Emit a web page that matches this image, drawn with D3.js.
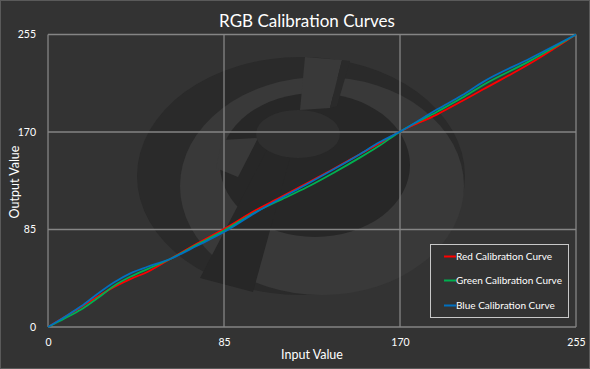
<!DOCTYPE html>
<html><head><meta charset="utf-8">
<script src="https://cdn.jsdelivr.net/npm/d3@7"></script>
<style>html,body{margin:0;padding:0;background:#333333;}svg{display:block;}</style>
</head><body>
<svg id="chart" width="590" height="369"></svg>
<script>
const inputs = [0, 8, 16, 24, 32, 40, 48, 59, 72, 85, 100, 112, 125, 138, 150, 160, 170, 188, 200, 210, 233, 255];
const redValues = [0, 8.6, 17.4, 26.6, 35, 42, 48, 59.3, 72.8, 85.4, 101.5, 112.8, 125.3, 138, 150, 160, 170.3, 185.4, 197, 207, 229.9, 255];
const greenValues = [0, 7.4, 15.2, 25.2, 36, 44, 50.5, 59.3, 71.8, 84, 100, 110.5, 121.8, 134.5, 147, 158, 170.3, 187.7, 199.8, 210.8, 232.2, 255];
const blueValues = [0, 8.8, 18, 29, 39, 47, 52.5, 59.3, 70.8, 82.8, 99.5, 111.8, 124.4, 137.5, 150, 161, 170.3, 189.8, 202, 213.5, 234.3, 255];
const seriesNames = ["Red Calibration Curve", "Green Calibration Curve", "Blue Calibration Curve"];
const seriesColors = ["#ff0000", "#00b050", "#0070c0"];
const tickValues = [0, 85, 170, 255];
const title = "RGB Calibration Curves";
const xTitle = "Input Value";
const yTitle = "Output Value";

const W = 590, H = 369;
const svg = d3.select("#chart");
const FONT = "Lato, 'Open Sans', sans-serif";

svg.append("rect").attr("x",0.5).attr("y",0.5).attr("width",W-1).attr("height",H-1)
  .attr("fill","#333333").attr("stroke","#5a5a5a");

// watermark
const wm = svg.append("g");
wm.append("ellipse").attr("cx",301).attr("cy",176).attr("rx",164).attr("ry",119).attr("fill","#2a2a2a");
wm.append("ellipse").attr("cx",322).attr("cy",186).attr("rx",142).attr("ry",109).attr("fill","#393939");
wm.append("ellipse").attr("cx",315).attr("cy",165).attr("rx",95).attr("ry",72).attr("fill","#272727");
wm.append("path").attr("d","M305,57 L342,60 L330,108 L300,110 Z").attr("fill","#393939");
wm.append("path").attr("d","M342,60 L350,61 L337,106 L330,108 Z").attr("fill","#2a2a2a");
wm.append("path").attr("d","M222,140 L258,138 L238,177 L216,168 Z").attr("fill","#393939");
wm.append("path").attr("d","M267,150 L290,158 L253,292 L200,278 Z").attr("fill","#272727");
wm.append("ellipse").attr("cx",298).attr("cy",134).attr("rx",42).attr("ry",24).attr("fill","#2f2f2f");

const x = d3.scaleLinear().domain([0,255]).range([48,576]);
const y = d3.scaleLinear().domain([0,255]).range([327,34.5]);

// gridlines
const grid = svg.append("g");
grid.selectAll(".gx").data(tickValues).join("line")
  .attr("x1",d=>x(d)).attr("x2",d=>x(d)).attr("y1",y(0)).attr("y2",y(255))
  .attr("stroke","#858585").attr("stroke-width",1.3);
grid.selectAll(".gy").data(tickValues).join("line")
  .attr("y1",d=>y(d)).attr("y2",d=>y(d)).attr("x1",x(0)).attr("x2",x(255))
  .attr("stroke","#858585").attr("stroke-width",1.3);

// axes labels
const xAxis = svg.append("g").attr("transform",`translate(0,${y(0)+9})`)
  .call(d3.axisBottom(x).tickValues(tickValues).tickSize(0).tickFormat(d3.format("d")));
xAxis.select(".domain").remove();
xAxis.selectAll("text").attr("fill","#ffffff").attr("font-family",FONT).attr("font-size",10.5);
const yAxis = svg.append("g").attr("transform",`translate(${x(0)-9},0)`)
  .call(d3.axisLeft(y).tickValues(tickValues).tickSize(0).tickFormat(d3.format("d")));
yAxis.select(".domain").remove();
yAxis.selectAll("text").attr("fill","#ffffff").attr("font-family",FONT).attr("font-size",10.5);

// lines
const series = [redValues, greenValues, blueValues];
const line = d3.line().x((d,i)=>x(inputs[i])).y(d=>y(d)).curve(d3.curveMonotoneX);
svg.append("g").selectAll("path").data(series).join("path")
  .attr("d",d=>line(d)).attr("fill","none")
  .attr("stroke",(d,i)=>seriesColors[i]).attr("stroke-width",1.8);

// titles
svg.append("text").attr("x",307).attr("y",27).attr("text-anchor","middle")
  .attr("fill","#ffffff").attr("font-family",FONT).attr("font-size",17).text(title);
svg.append("text").attr("x",312).attr("y",359).attr("text-anchor","middle")
  .attr("fill","#ffffff").attr("font-family",FONT).attr("font-size",12.5).text(xTitle);
svg.append("text").attr("transform","translate(19,182) rotate(-90)").attr("text-anchor","middle")
  .attr("fill","#ffffff").attr("font-family",FONT).attr("font-size",12.5).text(yTitle);

// legend
const lg = svg.append("g");
lg.append("rect").attr("x",430.5).attr("y",244.5).attr("width",138).attr("height",73)
  .attr("fill","#333333").attr("stroke","#c8c8c8").attr("stroke-width",1);
const rowsY = [256.5, 280.5, 305.5];
const items = lg.selectAll("g.item").data(seriesNames).join("g").attr("class","item")
  .attr("transform",(d,i)=>`translate(0,${rowsY[i]})`);
items.append("line").attr("x1",444).attr("x2",456).attr("y1",0).attr("y2",0)
  .attr("stroke",(d,i)=>seriesColors[i]).attr("stroke-width",2);
items.append("text").attr("x",456).attr("y",0).attr("dy","0.35em")
  .attr("fill","#ffffff").attr("font-family",FONT).attr("font-size",10).text(d=>d);
</script>
</body></html>
